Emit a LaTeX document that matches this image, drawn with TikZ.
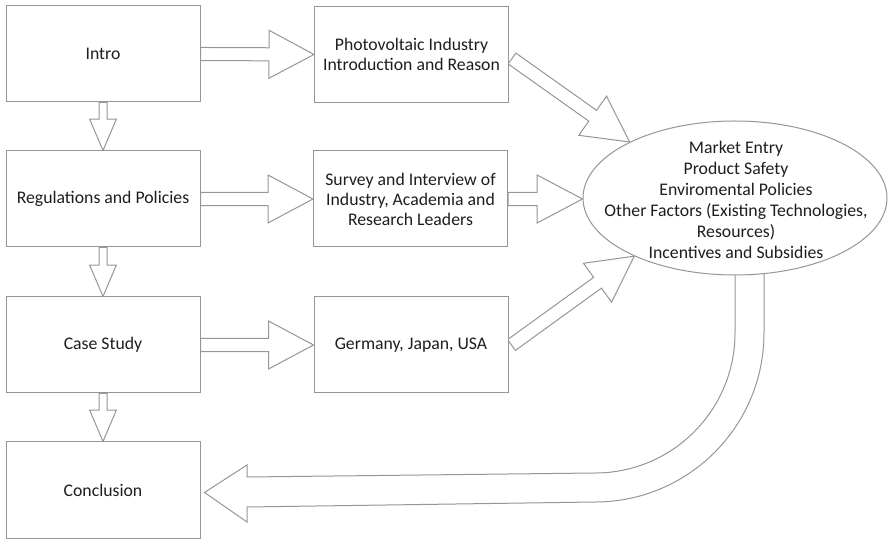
\documentclass[tikz,border=0pt]{standalone}
\usepackage{fontspec}
\setmainfont{Carlito}
\usetikzlibrary{calc,shapes.geometric,backgrounds}
\definecolor{edge}{RGB}{150,150,150}
\definecolor{ink}{RGB}{30,30,30}
\tikzset{
  stage/.style={draw=edge, line width=0.75pt, fill=white, minimum width=145.5pt,
    minimum height=72pt, inner sep=0pt, text=ink, align=center,
    font=\fontsize{13.3}{15}\selectfont},
  factors/.style={ellipse, draw=edge, line width=0.75pt, fill=white,
    minimum width=228pt, minimum height=115.5pt, inner sep=0pt},
  factortext/.style={text=ink, align=center, inner sep=0pt,
    font=\fontsize{13.3}{15.75}\selectfont},
  hollow/.style={draw=edge, line width=0.75pt, fill=white, line join=miter}
}
% Block arrow: from, to, shaft half width, head half width, head length
\newcommand\blockarrow[5]{%
  \coordinate (ba-s) at (#1);
  \coordinate (ba-t) at (#2);
  \coordinate (ba-b) at ($(ba-t)!#5!(ba-s)$);
  \draw[hollow] ($(ba-s)!#3!90:(ba-t)$) -- ($(ba-b)!#3!-90:(ba-s)$)
    -- ($(ba-b)!#4!-90:(ba-s)$) -- (ba-t) -- ($(ba-b)!#4!90:(ba-s)$)
    -- ($(ba-b)!#3!90:(ba-s)$) -- ($(ba-s)!#3!-90:(ba-t)$) -- cycle;
}
\begin{document}
\begin{tikzpicture}[x=0.75pt,y=-0.75pt]
\useasboundingbox (0,0) rectangle (889,541);

% left column
\node[stage] (intro) at (103,54) {Intro};
\node[stage] (reg) at (103,199) {Regulations and Policies};
\node[stage] (case) at (103,345) {Case Study};
\node[stage] (conc) at (103,490) {Conclusion};

% middle column
\node[stage] (pv) at (411.5,54.5) {Photovoltaic Industry\\Introduction and Reason};
\node[stage] (surv) at (410.5,199) {Survey and Interview of\\Industry, Academia and\\Research Leaders};
\node[stage] (ger) at (411,345) {Germany, Japan, USA};

% factors
\node[factors] (fac) at (735,198) {};
\node[factortext] (factxt) at (736,200) {Market Entry\\Product Safety\\Enviromental Policies\\Other Factors (Existing Technologies,\\Resources)\\Incentives and Subsidies};

\coordinate (pvtail) at ($(pv.east)+(3,4)$);
\coordinate (gertail) at ($(ger.east)+(3,0)$);
\coordinate (conctip) at ($(conc.east)+(4,2.5)$);

\begin{scope}[on background layer]
  % horizontal arrows
  \blockarrow{intro.east}{pv.west}{4.9pt}{18pt}{33.75pt}
  \blockarrow{reg.east}{surv.west}{4.9pt}{18pt}{33.75pt}
  \blockarrow{case.east}{ger.west}{4.9pt}{18pt}{33.75pt}
  % vertical arrows
  \blockarrow{intro.south}{reg.north}{3pt}{10pt}{23.5pt}
  \blockarrow{reg.south}{case.north}{3pt}{10pt}{23.5pt}
  \blockarrow{case.south}{conc.north}{3pt}{10pt}{23.5pt}
  % into the factors
  \blockarrow{pvtail}{fac.152}{5pt}{18pt}{34pt}
  \blockarrow{surv.east}{surv.east -| fac.west}{4.9pt}{18pt}{34pt}
  \blockarrow{gertail}{fac.210}{5pt}{18pt}{34pt}
  % curved return arrow to the conclusion
  \draw[hollow] (735,268) -- (735,333)
    .. controls (735,410.3) and (672.3,473) .. (595,473)
    -- (247,477) -- (247,465) -- (conctip) -- (247,522) -- (247,507)
    -- (595,502) .. controls (688.3,502) and (764,426.3) .. (764,333)
    -- (764,268) -- cycle;
\end{scope}
\end{tikzpicture}
\end{document}
